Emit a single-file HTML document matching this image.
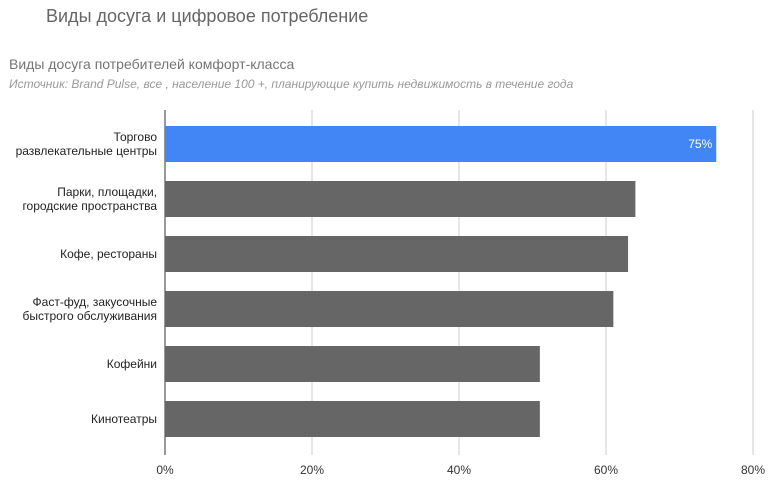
<!DOCTYPE html>
<html><head><meta charset="utf-8"><style>
body{margin:0;background:#fff;width:777px;height:498px;overflow:hidden;font-family:"Liberation Sans",sans-serif}
</style></head><body>
<svg id="chart" width="777" height="498" xmlns="http://www.w3.org/2000/svg" font-family="Liberation Sans, sans-serif">
<text x="46" y="22" font-size="18" fill="#666">Виды досуга и цифровое потребление</text>
<text x="9" y="69" font-size="14" fill="#757575">Виды досуга потребителей комфорт-класса</text>
<text x="9" y="88" font-size="12" font-style="italic" fill="#999">Источник: Brand Pulse, все , население 100 +, планирующие купить недвижимость в течение года</text>
<g id="grid"></g><g id="bars"></g><g id="labels"></g>
</svg>
<script>
const categories=[["Торгово","развлекательные центры"],["Парки, площадки,","городские пространства"],["Кофе, рестораны"],["Фаст-фуд, закусочные","быстрого обслуживания"],["Кофейни"],["Кинотеатры"]];
const values=[75,64,63,61,51,51];
const ticks=[0,20,40,60,80];
const tickLabels=["0%","20%","40%","60%","80%"];
const NS="http://www.w3.org/2000/svg";
const x0=165,x1=753,vmax=80,yTop=126,pitch=55,bh=36;
const xs=v=>x0+(x1-x0)*v/vmax;
function mk(t,a,p){const e=document.createElementNS(NS,t);for(const k in a)e.setAttribute(k,a[k]);p.appendChild(e);return e;}
const grid=document.getElementById('grid'),bars=document.getElementById('bars'),labels=document.getElementById('labels');
ticks.forEach((t,i)=>{
 const l=mk('line',{x1:xs(t),x2:xs(t),y1:110,y2:455,stroke:t===0?'#333':'#ccc','stroke-width':1},grid);
 
 
 const tx=mk('text',{x:xs(t),y:474,'font-size':12,fill:'#333','text-anchor':'middle'},labels);
 tx.textContent=tickLabels[i];
 
 
});
values.forEach((v,i)=>{
 const y=yTop+i*pitch;
 const r=mk('rect',{x:x0,y:y,width:xs(v)-x0,height:bh,fill:i===0?'#4285f4':'#666'},bars);
 
 
 const lines=categories[i];
 lines.forEach((s,j)=>{
  const t=mk('text',{x:157,y:y+bh/2+4+(j-(lines.length-1)/2)*14,'font-size':12,fill:'#222','text-anchor':'end'},labels);
  t.textContent=s;
  
  
 });
 if(i===0){
  const t=mk('text',{x:xs(v)-4,y:y+bh/2+4,'font-size':12,fill:'#fff','text-anchor':'end'},labels);
  t.textContent=v+'%';
  
  
 }
});
</script>
</body></html>
